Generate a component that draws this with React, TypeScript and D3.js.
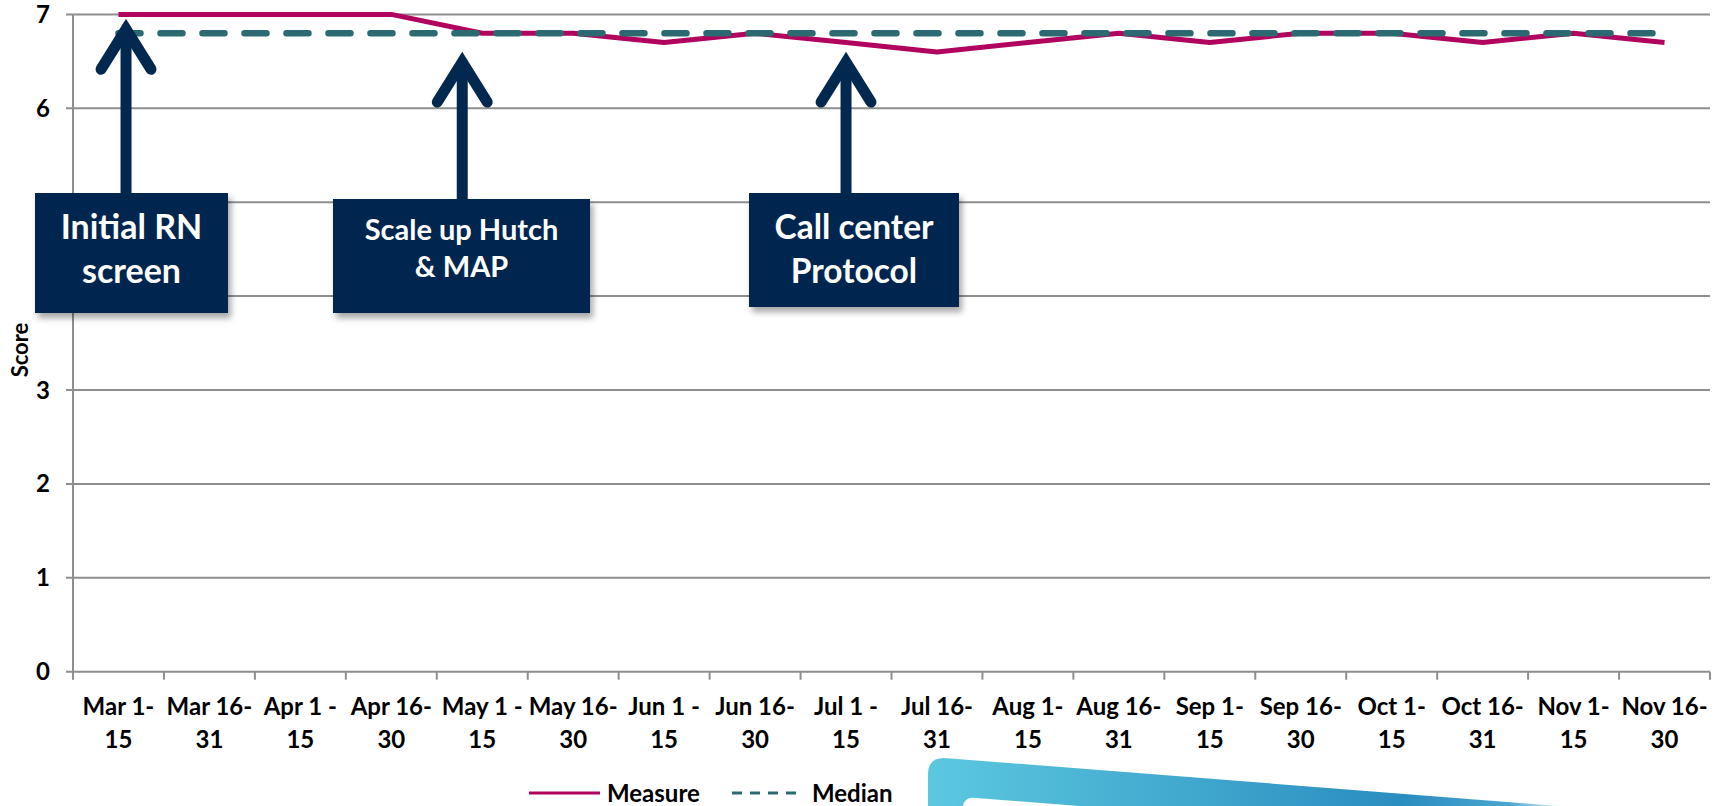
import React from "react";
import * as d3 from "d3";

const categoryLine1 = ["Mar 1-", "Mar 16-", "Apr 1 -", "Apr 16-", "May 1 -", "May 16-", "Jun 1 -", "Jun 16-", "Jul 1 -", "Jul 16-", "Aug 1-", "Aug 16-", "Sep 1-", "Sep 16-", "Oct 1-", "Oct 16-", "Nov 1-", "Nov 16-"];
const categoryLine2 = ["15", "31", "15", "30", "15", "30", "15", "30", "15", "31", "15", "31", "15", "30", "15", "31", "15", "30"];
const measureValues = [7, 7, 7, 7, 6.8, 6.8, 6.7, 6.8, 6.7, 6.6, 6.7, 6.8, 6.7, 6.8, 6.8, 6.7, 6.8, 6.7];
const medianValues = [6.8, 6.8, 6.8, 6.8, 6.8, 6.8, 6.8, 6.8, 6.8, 6.8, 6.8, 6.8, 6.8, 6.8, 6.8, 6.8, 6.8, 6.8];
const yTicks = [0, 1, 2, 3, 4, 5, 6, 7];
const annotationLines = [["Initial RN", "screen"], ["Scale up Hutch", "& MAP"], ["Call center", "Protocol"]];
const annotationIndex = [0.083, 3.78, 8.0];
const annotationTipValue = [6.97, 6.62, 6.62];

const W = 1723, H = 806;
const L = 73, R = 1710, T = 14.4, B = 671.7;
const FONT = "Lato, 'Open Sans', sans-serif";
const MEASURE_C = "#B0045E";
const MEDIAN_C = "#2B6A70";
const NAVY = "#03284F";

const boxes = [
  { x0: 35, x1: 228, y0: 193, y1: 313, fs: 34, base: [239, 283] },
  { x0: 333, x1: 590, y0: 199, y1: 313, fs: 29, base: [240, 277] },
  { x0: 749, x1: 959, y0: 193, y1: 307, fs: 33.5, base: [239, 283] },
];

export default function App() {
  const cats = categoryLine1.map((a, i) => a + categoryLine2[i]);
  const xb = d3.scaleBand().domain(cats).range([L, R]).padding(0);
  const bw = xb.bandwidth();
  const xc = (i: number) => (xb(cats[i]) as number) + bw / 2;
  const xi = d3.scaleLinear().domain([-0.5, cats.length - 0.5]).range([L, R]);
  const y = d3.scaleLinear().domain([0, 7]).range([B, T]);

  const lineGen = d3.line<number>().x((_, i) => xc(i)).y((d) => y(d));

  const slope = 0.078;
  const blueX = 928, blueTop = 758, r = 16;
  const bluePath = `M${blueX},${H} L${blueX},${blueTop + r} Q${blueX},${blueTop} ${blueX + r},${blueTop} L${blueX + r + (H - blueTop) / slope},${H} Z`;
  const wX = 963, wTop = 798, wr = 10;
  const whitePath = `M${wX},${H} L${wX},${wTop + wr} Q${wX},${wTop} ${wX + wr},${wTop - 0.3} L${wX + wr + 700},${wTop + 700 * slope} L${wX + wr + 700},${H} Z`;

  return (
    <svg width={W} height={H} style={{ position: "absolute", left: 0, top: 0, background: "#fff" }} fontFamily={FONT}>
      <defs>
        <linearGradient id="blueGrad" x1={blueX} x2={1560} y1={0} y2={0} gradientUnits="userSpaceOnUse">
          <stop offset="0" stopColor="#5CC8E0" />
          <stop offset="0.75" stopColor="#2A8DBF" />
          <stop offset="0.92" stopColor="#4AA5CF" />
          <stop offset="1" stopColor="#E8F4FA" />
        </linearGradient>
        <filter id="shadow" x="-20%" y="-20%" width="140%" height="150%">
          <feDropShadow dx="3" dy="5" stdDeviation="3" floodColor="#000" floodOpacity="0.35" />
        </filter>
      </defs>

      {/* decorative slide shape */}
      <path d={bluePath} fill="url(#blueGrad)" />
      <path d={whitePath} fill="#fff" />

      {/* gridlines */}
      {yTicks.map((t) => (
        <line key={"g" + t} x1={L - 7} x2={R} y1={y(t)} y2={y(t)} stroke="#8E8E8E" strokeWidth={2} />
      ))}
      <line x1={L} x2={L} y1={T} y2={B} stroke="#8E8E8E" strokeWidth={2} />
      {cats.map((c, i) => (
        <line key={"t" + i} x1={xb(c) as number} x2={xb(c) as number} y1={B} y2={B + 8} stroke="#8E8E8E" strokeWidth={2} />
      ))}
      <line x1={R} x2={R} y1={B} y2={B + 8} stroke="#8E8E8E" strokeWidth={2} />

      {/* y tick labels */}
      {yTicks.map((t) => (
        <text key={"yl" + t} x={50} y={y(t) + 8.5} textAnchor="end" fontSize={24} fontWeight={700} fill="#000">{t}</text>
      ))}
      <text transform={`translate(28,350) rotate(-90)`} textAnchor="middle" fontSize={22} fontWeight={700} fill="#000">Score</text>

      {/* x labels */}
      {cats.map((c, i) => (
        <g key={"xl" + i}>
          <text x={xc(i)} y={715} textAnchor="middle" fontSize={24} fontWeight={700} fill="#000">{categoryLine1[i]}</text>
          <text x={xc(i)} y={748} textAnchor="middle" fontSize={24} fontWeight={700} fill="#000">{categoryLine2[i]}</text>
        </g>
      ))}

      {/* series */}
      <path d={lineGen(measureValues) as string} fill="none" stroke={MEASURE_C} strokeWidth={5} strokeLinejoin="round" />
      <path d={lineGen(medianValues) as string} fill="none" stroke={MEDIAN_C} strokeWidth={6.5} strokeDasharray="22 20" strokeLinecap="round" />

      {/* annotations */}
      {annotationLines.map((lines, k) => {
        const b = boxes[k];
        const ax = xi(annotationIndex[k]);
        const tip = y(annotationTipValue[k]);
        const cx = (b.x0 + b.x1) / 2;
        return (
          <g key={"an" + k}>
            <line x1={ax} x2={ax} y1={tip + 14} y2={b.y0 + 2} stroke={NAVY} strokeWidth={11} />
            <polyline points={`${ax - 25},${tip + 52} ${ax},${tip + 12} ${ax + 25},${tip + 52}`} fill="none" stroke={NAVY} strokeWidth={11} strokeLinecap="round" strokeLinejoin="miter" strokeMiterlimit={10} />
            <rect x={b.x0} y={b.y0} width={b.x1 - b.x0} height={b.y1 - b.y0} fill={NAVY} filter="url(#shadow)" />
            <text x={cx} y={b.base[0]} textAnchor="middle" fontSize={b.fs} fontWeight={700} fill="#fff">{lines[0]}</text>
            <text x={cx} y={b.base[1]} textAnchor="middle" fontSize={b.fs} fontWeight={700} fill="#fff">{lines[1]}</text>
          </g>
        );
      })}

      {/* legend */}
      <line x1={529} x2={600} y1={793} y2={793} stroke={MEASURE_C} strokeWidth={3} />
      <text x={607} y={802} fontSize={24} fontWeight={700} fill="#000">Measure</text>
      <line x1={732} x2={797} y1={793} y2={793} stroke={MEDIAN_C} strokeWidth={3} strokeDasharray="10 8" />
      <text x={812} y={802} fontSize={24} fontWeight={700} fill="#000">Median</text>
    </svg>
  );
}
